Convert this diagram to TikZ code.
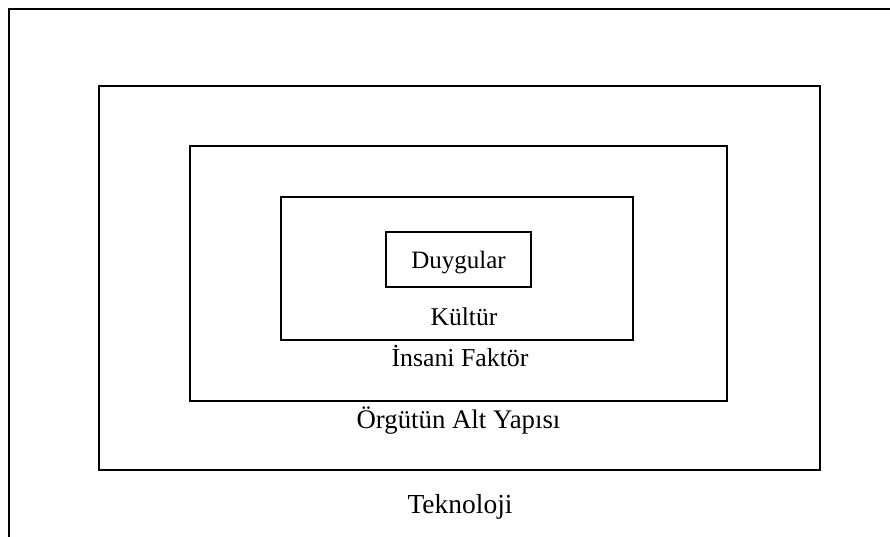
\documentclass[tikz,border=0pt]{standalone}
\usepackage{fontspec}
\setmainfont{Liberation Serif}
\begin{document}
\begin{tikzpicture}[x=1pt,y=-1pt,
  layer/.style={draw=black,line width=1.6pt,inner sep=0pt},
  lbl/.style={anchor=base,inner sep=0pt,font=\fontsize{#1}{30}\selectfont}]
\useasboundingbox (0,0) rectangle (890,536);
\clip (0,0) rectangle (890,536);
% outermost layer, running off the right and bottom edges
\draw[line width=1.6pt] (9,560) -- (9,9) -- (910,9);
% nested layers
\node[layer,minimum width=721pt,minimum height=384pt] (infra) at (459.5,278) {};
\node[layer,minimum width=537pt,minimum height=255pt] (human) at (458.5,273.5) {};
\node[layer,minimum width=352pt,minimum height=143pt] (culture) at (457,268.5) {};
\node[layer,minimum width=145pt,minimum height=55pt,text depth=0pt,
      font=\fontsize{25}{30}\selectfont] (emotions) at (458.5,259.5) {Duygular};
% layer labels
\node[lbl=25.6] (tculture) at (464,325) {Kültür};
\node[lbl=25.8] (thuman) at (460,366) {İnsani Faktör};
\node[lbl=26.8] (tinfra) at (458.5,428) {Örgütün Alt Yapısı};
\node[lbl=27.5] (ttech) at (460,513) {Teknoloji};
\end{tikzpicture}
\end{document}
